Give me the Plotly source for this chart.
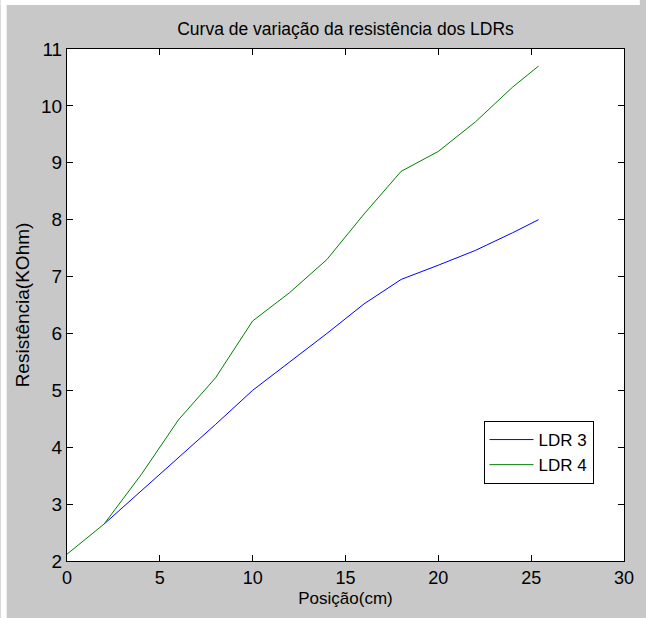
import plotly.graph_objects as go

# Data
pos = [0, 2, 4, 6, 8, 10, 12, 14, 16, 18, 20, 22, 24, 25.4]
ldr3 = [2.12, 2.65, 3.23, 3.81, 4.40, 5.00, 5.50, 6.00, 6.52, 6.95, 7.20, 7.46, 7.77, 8.00]
ldr4 = [2.12, 2.65, 3.52, 4.48, 5.22, 6.22, 6.72, 7.30, 8.10, 8.85, 9.20, 9.72, 10.33, 10.70]

title_text = "Curva de variação da resistência dos LDRs"
x_title = "Posição(cm)"
y_title = "Resistência(KOhm)"
x_ticks = [0, 5, 10, 15, 20, 25, 30]
y_ticks = [2, 3, 4, 5, 6, 7, 8, 9, 10, 11]

W, H = 646, 618
ML, MR, MT, MB = 67, 16, 49, 57
PW, PH = W - ML - MR, H - MT - MB

REG = "Liberation Sans, Arial, sans-serif"

fig = go.Figure()
fig.add_trace(go.Scatter(x=pos[1:], y=ldr3[1:], mode="lines", name="LDR 3",
                         line=dict(color="#0000ff", width=1)))
fig.add_trace(go.Scatter(x=pos, y=ldr4, mode="lines", name="LDR 4",
                         line=dict(color="#008000", width=1)))

axis_common = dict(showline=True, linecolor="black", linewidth=1, mirror="ticks",
                   ticks="inside", ticklen=6, tickcolor="black", showgrid=False,
                   zeroline=False)

fig.update_xaxes(range=[0, 30], tickvals=x_ticks,
                 tickfont=dict(family=REG, size=18, color="black"),
                 title=dict(text=x_title, font=dict(family=REG, size=17, color="black"),
                            standoff=5),
                 **axis_common)
fig.update_yaxes(range=[2, 11], tickvals=y_ticks,
                 tickfont=dict(family=REG, size=19, color="black"),
                 title=dict(text=y_title, font=dict(family=REG, size=19, color="black"),
                            standoff=6),
                 **axis_common)

# white strips at top and left edges of the page
px2x = lambda px: (px - ML) / PW
py2y = lambda py: (H - MB - py) / PH
shapes = [
    dict(type="rect", xref="paper", yref="paper", x0=px2x(0), x1=px2x(W), y0=py2y(5), y1=py2y(0),
         fillcolor="white", line=dict(width=0), layer="above"),
    dict(type="rect", xref="paper", yref="paper", x0=px2x(0), x1=px2x(6), y0=py2y(H), y1=py2y(0),
         fillcolor="white", line=dict(width=0), layer="above"),
]

fig.update_layout(
    width=W, height=H,
    margin=dict(l=ML, r=MR, t=MT, b=MB),
    paper_bgcolor="#c8c8c8", plot_bgcolor="white",
    title=dict(text=title_text, x=0.5, xref="paper", y=1 - 29 / H, yref="container",
               xanchor="center", yanchor="middle",
               font=dict(family=REG, size=17.5, color="black")),
    legend=dict(x=px2x(488), y=py2y(421), xanchor="left", yanchor="top",
                bgcolor="white", bordercolor="black", borderwidth=1,
                itemwidth=44, tracegroupgap=0,
                font=dict(family=REG, size=17, color="black")),
    shapes=shapes,
    showlegend=True,
)

fig.write_html("out.html")
